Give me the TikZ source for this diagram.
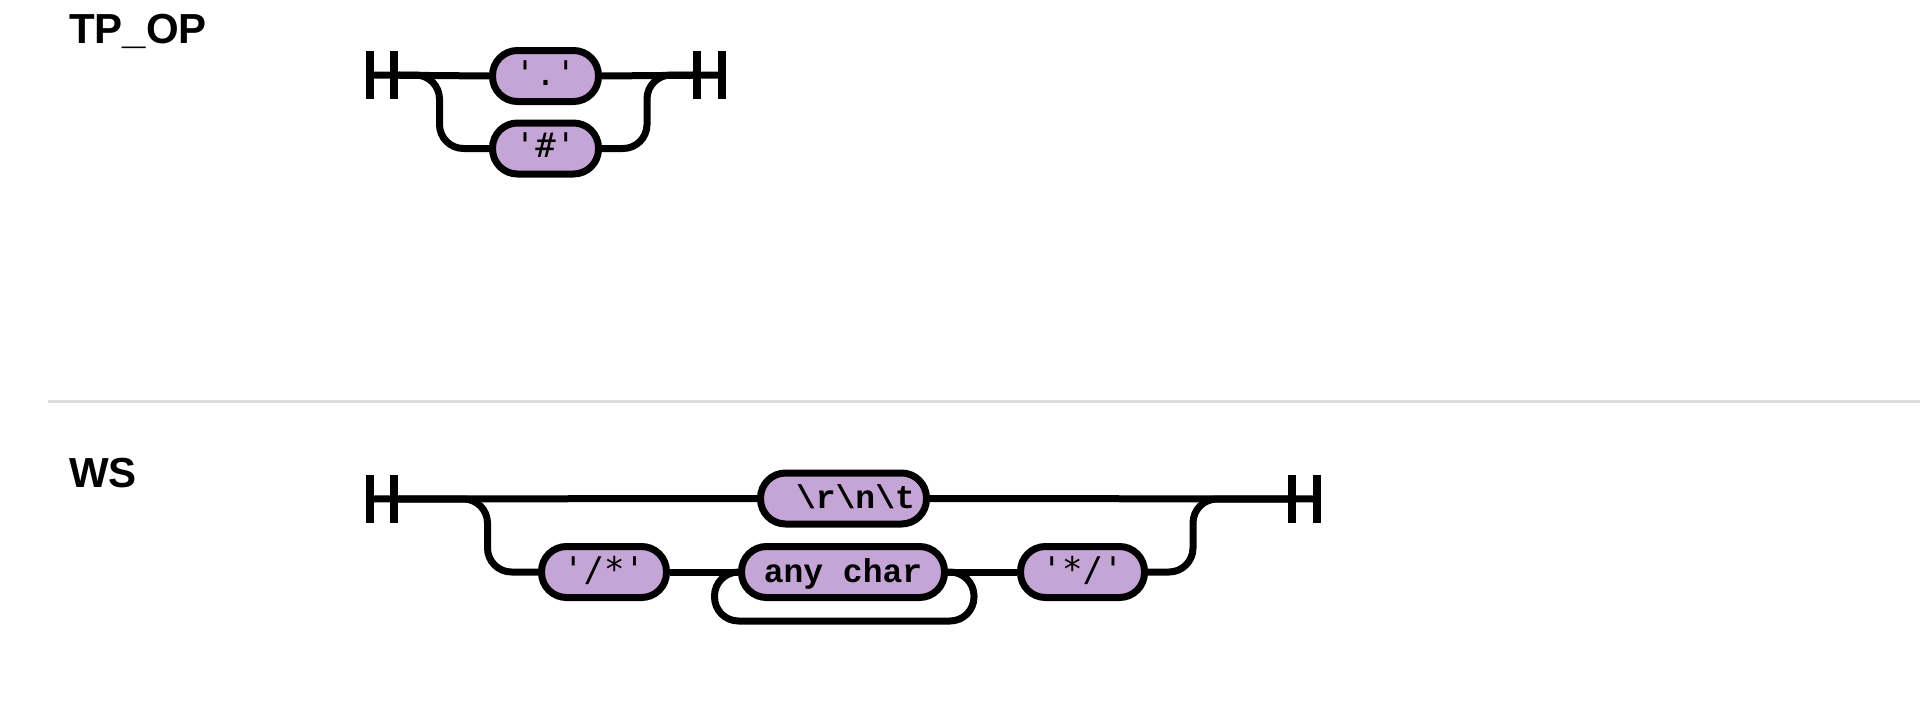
\documentclass[tikz,border=0pt]{standalone}
\usepackage{fontspec}
\setmainfont{Liberation Sans}
\newfontfamily\litfont{DejaVu Sans Mono}
\newfontfamily\codefont{Liberation Mono}
\usetikzlibrary{backgrounds,calc}
\definecolor{nodefill}{RGB}{197,165,213}
\definecolor{divgray}{RGB}{221,221,221}
\tikzset{
  rail/.style={line width=7pt, draw=black},
  railr/.style={rail, rounded corners=24pt},
  term/.style={draw=black, line width=7pt, fill=nodefill, rounded corners=25pt,
    minimum height=51pt, inner sep=0pt, text height=18pt, text depth=0pt},
  lit/.style={term, font=\litfont\fontsize{34}{34}\selectfont},
  code/.style={term, font=\codefont\bfseries\fontsize{33}{33}\selectfont, text height=20pt},
  title/.style={anchor=base west, inner sep=0pt, font=\bfseries\fontsize{42}{42}\selectfont},
  bar/.style={line width=7.5pt, draw=black}
}
\begin{document}
\begin{tikzpicture}[x=1pt,y=-1pt]
\useasboundingbox (0,0) rectangle (1920,720);
% titles and divider
\node[title] (t1) at (69,43) {TP\_OP};
\node[title] (t2) at (69,487) {WS};
\coordinate (d1) at (48,401);
\coordinate (d2) at (1920,401);
\draw[divgray, line width=3pt] (d1) -- (d2);

% ---- TP_OP ----
\node[lit, minimum width=106pt] (dot) at (545.5,76) {'.'};
\node[lit, minimum width=106pt] (hash) at (545.5,148.5) {'\#'};
\coordinate (tS) at (394,75);
\coordinate (tE) at (697,75);
\coordinate (tS0) at (370,75);
\coordinate (tE0) at (722,75);
\draw[bar] ([yshift=-24]tS0) -- ([yshift=24]tS0);
\draw[bar] ([yshift=-24]tS) -- ([yshift=24]tS);
\draw[bar] ([yshift=-24]tE) -- ([yshift=24]tE);
\draw[bar] ([yshift=-24]tE0) -- ([yshift=24]tE0);
\begin{scope}[on background layer]
\draw[rail] (tS0) -- (dot.west);
\draw[rail] (dot.east) -- (tE0);
\draw[railr] (tS) -| ([xshift=-49.5]hash.west) -- ([xshift=5]hash.west);
\draw[railr] ([xshift=-5]hash.east) -| ([xshift=-50]tE) -- (tE);
\end{scope}

% ---- WS ----
\node[code, minimum width=166pt] (crlf) at (843.5,498.5) {\hspace*{24pt}\textbackslash r\textbackslash n\textbackslash t};
\node[lit, minimum width=125pt] (open) at (604,572) {'/*'};
\node[code, minimum width=203pt] (any) at (843,572) {any char};
\node[lit, minimum width=124pt] (close) at (1082.5,572) {'*/'};
\coordinate (wS) at (394,499);
\coordinate (wE) at (1292,499);
\coordinate (wS0) at (370,499);
\coordinate (wE0) at (1317,499);
\draw[bar] ([yshift=-24]wS0) -- ([yshift=24]wS0);
\draw[bar] ([yshift=-24]wS) -- ([yshift=24]wS);
\draw[bar] ([yshift=-24]wE) -- ([yshift=24]wE);
\draw[bar] ([yshift=-24]wE0) -- ([yshift=24]wE0);
\begin{scope}[on background layer]
\draw[rail] (wS0) -- (crlf.west);
\draw[rail] (crlf.east) -- (wE0);
\draw[railr] (wS) -| ([xshift=-50.5]open.west) -- ([xshift=5]open.west);
\draw[rail] (open.east) -- (any.west);
\draw[rail] (any.east) -- (close.west);
\draw[railr] ([xshift=-5]any.east) -- ([xshift=26]any.east) -- ([xshift=26,yshift=-49]any.east) -| ([xshift=-23.5]any.west) -- ([xshift=5]any.west);
\draw[railr] ([xshift=-5]close.east) -| ([xshift=-99]wE) -- (wE);
\end{scope}
\end{tikzpicture}
\end{document}
